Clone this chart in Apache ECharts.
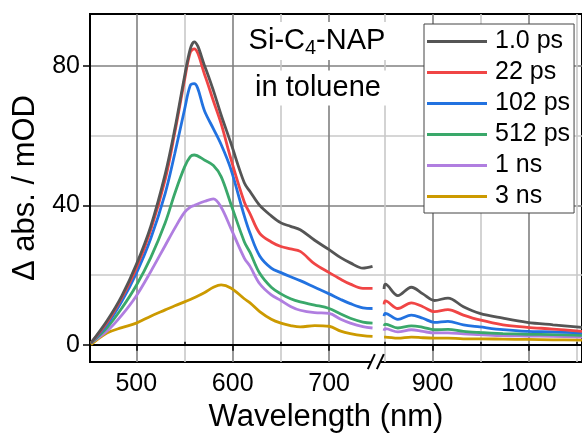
<!DOCTYPE html>
<html>
<head>
<meta charset="utf-8">
<script src="https://cdn.jsdelivr.net/npm/echarts@6/dist/echarts.min.js"></script>
<style>
    html, body { margin: 0; padding: 0; background: #fff; }
    #main { width: 582px; height: 438px; }
</style>
</head>
<body>
<div id="main"></div>
<script>
    // wavelengths (nm) on each side of the axis break
    var wlLeft = [453, 470, 485, 500, 515, 530, 540, 550, 556, 560, 571, 580, 588, 598, 612, 618, 628, 640, 650, 660, 670, 685, 700, 712, 722, 735, 745];
    var wlRight = [846, 851, 864, 878, 890, 902, 916, 932, 949, 973, 998, 1025, 1055];

    // delta abs (mOD)
    var ps1Left = [0.5, 7, 14, 23, 34, 49, 62, 77, 85, 87, 80, 73, 66, 58, 46.5, 44, 40, 37, 35, 34, 33, 30, 27.3, 25, 23.5, 22, 22.5];
    var ps1Right = [16, 17.4, 14.1, 16.5, 14.6, 12.7, 13.4, 10.9, 9.0, 7.6, 6.4, 5.7, 5.0];
    var ps22Left = [0.5, 6.5, 13.5, 22, 33, 47.5, 61, 76, 84, 85, 77.5, 70, 63.5, 53.5, 41, 37.6, 32, 29.5, 28.2, 27.5, 26.8, 23.2, 20.7, 18.8, 17.4, 16.2, 16.2];
    var ps22Right = [11.6, 12.6, 10.4, 12, 10.9, 9.5, 10.1, 8.5, 7.1, 5.7, 5.0, 4.5, 3.8];
    var ps102Left = [0.5, 6, 12.5, 20.5, 30.5, 43.5, 55, 67.5, 74.5, 75, 67, 62, 57.5, 50.5, 37, 32, 25.5, 22, 20.7, 19.5, 18.4, 16.5, 14.6, 13, 11.8, 10.6, 10.4];
    var ps102Right = [8.2, 9.0, 7.3, 8.5, 7.6, 6.4, 6.7, 5.7, 5.1, 4.3, 3.8, 3.7, 3.4];
    var ps512Left = [0.5, 5, 10.5, 17, 25, 35, 43.5, 51, 54, 54.5, 53, 51.5, 48.3, 40.5, 29.6, 26.5, 20.5, 16.5, 14.6, 13.2, 12.3, 11.4, 10.4, 8.8, 7.6, 6.5, 6.2];
    var ps512Right = [5.4, 5.9, 4.8, 5.4, 5.0, 4.3, 4.4, 3.8, 3.5, 3.2, 3.0, 2.9, 2.7];
    var ns1Left = [0.5, 4, 8.5, 14, 21, 28.5, 33.5, 38, 39.5, 40, 41.2, 41.9, 39.5, 33.5, 24.9, 22.5, 17.5, 14.3, 12.7, 11, 9.9, 9.2, 9.0, 7.3, 6.2, 5.2, 4.8];
    var ns1Right = [4.0, 4.6, 3.7, 4.3, 3.8, 3.4, 3.4, 3.1, 2.9, 2.6, 2.5, 2.4, 2.2];
    var ns3Left = [0, 3.4, 4.9, 6.2, 8.2, 10, 11.2, 12.3, 13, 13.5, 15, 16.5, 17.2, 16.3, 13.2, 12, 9.5, 7.3, 6.2, 5.5, 5.1, 5.5, 5.3, 3.9, 3.2, 2.6, 2.4];
    var ns3Right = [2.2, 2.2, 1.9, 2.2, 2.0, 1.9, 1.9, 1.7, 1.7, 1.6, 1.5, 1.4, 1.3];

    var seriesNames = ['1.0 ps', '22 ps', '102 ps', '512 ps', '1 ns', '3 ns'];
    var seriesColors = ['#555555', '#f04545', '#2272e0', '#3aa86a', '#b07ee0', '#cc9a00'];
    var leftVals = [ps1Left, ps22Left, ps102Left, ps512Left, ns1Left, ns3Left];
    var rightVals = [ps1Right, ps22Right, ps102Right, ps512Right, ns1Right, ns3Right];

    var xMajor = [500, 600, 700, 900, 1000];
    var xMinor = [550, 650, 850, 950, 1050];
    var yMajor = [0, 40, 80];
    var yMinor = [20, 60];

    var FONT = 'Liberation Sans, Arial, sans-serif';

    function buildData(k) {
        var d = wlLeft.map(function (w, i) { return [w, leftVals[k][i]]; });
        d.push([800, '-']); // no data inside the break
        return d.concat(wlRight.map(function (w, i) { return [w, rightVals[k][i]]; }));
    }

    var xBreaks = [{ start: 750, end: 850, gap: '1.42%' }];

    var myEcharts = echarts.init(document.getElementById('main'));

    var series = seriesNames.map(function (name, k) {
        var s = {
            name: name,
            type: 'line',
            xAxisIndex: 0,
            yAxisIndex: 0,
            data: buildData(k),
            symbol: 'none',
            smooth: 0.35,
            connectNulls: false,
            lineStyle: { width: 2.8, color: seriesColors[k] },
            itemStyle: { color: seriesColors[k] },
            z: 10 - k,
            animation: false
        };
        if (k === 0) {
            s.markLine = {
                silent: true,
                symbol: 'none',
                label: { show: false },
                lineStyle: { color: '#000', width: 2, type: 'solid' },
                data: [{ yAxis: 0 }],
                animation: false
            };
        }
        return s;
    });

    myEcharts.setOption({
        animation: false,
        grid: {
            left: 90, right: -1, top: 14, bottom: 68,
            show: true, borderColor: '#000', borderWidth: 2
        },
        xAxis: [{
            type: 'value', min: 452, max: 1055,
            breaks: xBreaks,
            breakArea: { show: false },
            name: 'Wavelength (nm)', nameLocation: 'middle', nameGap: 27,
            nameTextStyle: { fontSize: 31, color: '#000', fontFamily: FONT, padding: [0, 20, 0, 0] },
            axisLine: { show: true, lineStyle: { color: '#000', width: 2 } },
            axisTick: { show: true, customValues: xMajor, length: 6, lineStyle: { color: '#000', width: 1.5 } },
            axisLabel: {
                customValues: xMajor, fontSize: 25, color: '#000', fontFamily: FONT, margin: 10,
                formatter: function (v) { return String(v); }
            },
            splitLine: { show: true, lineStyle: { color: '#808080', width: 1.6 } }
        }, {
            type: 'value', min: 452, max: 1055,
            breaks: xBreaks,
            breakArea: { show: false },
            axisLine: { show: false },
            axisTick: { show: true, customValues: xMinor, length: 3, lineStyle: { color: '#000', width: 1.5 } },
            axisLabel: { show: false },
            splitLine: { show: true, lineStyle: { color: '#c8c8c8', width: 1.6 } }
        }],
        yAxis: [{
            type: 'value', min: -5, max: 95,
            name: 'Δ abs. / mOD', nameLocation: 'middle', nameGap: 44,
            nameTextStyle: { fontSize: 31, color: '#000', fontFamily: FONT },
            axisLine: { show: true, lineStyle: { color: '#000', width: 2 } },
            axisTick: { show: true, customValues: yMajor, length: 7, lineStyle: { color: '#000', width: 1.5 } },
            axisLabel: { customValues: yMajor, fontSize: 25, color: '#000', fontFamily: FONT, margin: 10 },
            splitLine: { show: true, lineStyle: { color: '#808080', width: 1.6 } }
        }, {
            type: 'value', min: -5, max: 95,
            axisLine: { show: false },
            axisTick: { show: true, customValues: yMinor, length: 3, lineStyle: { color: '#000', width: 1.5 } },
            axisLabel: { show: false },
            splitLine: { show: true, lineStyle: { color: '#c8c8c8', width: 1.6 } }
        }],
        legend: {
            orient: 'vertical',
            left: 424, top: 24,
            padding: [2, 4, 1, 3],
            itemGap: 0,
            itemWidth: 60,
            itemHeight: 3,
            icon: 'rect',
            backgroundColor: '#fff',
            borderColor: '#444',
            borderWidth: 1,
            borderRadius: 0,
            textStyle: { fontSize: 25, color: '#000', fontFamily: FONT, lineHeight: 31, padding: [0, 0, 0, 3] },
            data: seriesNames
        },
        series: series
    });

    // sample label and the // mark on the broken axis
    var xa = myEcharts.convertToPixel({ xAxisIndex: 0 }, 750);
    var xb = myEcharts.convertToPixel({ xAxisIndex: 0 }, 850);
    var yBottom = myEcharts.convertToPixel({ yAxisIndex: 0 }, -5);
    var mid = (xa + xb) / 2 - 5;

    myEcharts.setOption({
        graphic: [{
            type: 'text', x: 317, y: 41, z: 50,
            style: {
                text: 'Si-C{s|4}-NAP',
                font: '29px ' + FONT,
                fill: '#000',
                align: 'center', verticalAlign: 'middle',
                backgroundColor: '#fff',
                padding: [2, 4, 2, 4],
                rich: { s: { fontSize: 20, fontFamily: FONT, fill: '#000', padding: [14, 0, 0, 0] } }
            }
        }, {
            type: 'text', x: 318, y: 88, z: 50,
            style: {
                text: 'in toluene',
                font: '29px ' + FONT,
                fill: '#000',
                align: 'center', verticalAlign: 'middle',
                backgroundColor: '#fff',
                padding: [3, 6, 3, 6]
            }
        }, {
            type: 'rect', z: 50,
            shape: { x: mid - 5, y: yBottom - 4, width: 10, height: 8 },
            style: { fill: '#fff' }
        }, {
            type: 'line', z: 51,
            shape: { x1: mid - 8, y1: yBottom + 7, x2: mid - 1, y2: yBottom - 8 },
            style: { stroke: '#000', lineWidth: 2 }
        }, {
            type: 'line', z: 51,
            shape: { x1: mid + 1, y1: yBottom + 7, x2: mid + 8, y2: yBottom - 8 },
            style: { stroke: '#000', lineWidth: 2 }
        }]
    });
</script>
</body>
</html>
